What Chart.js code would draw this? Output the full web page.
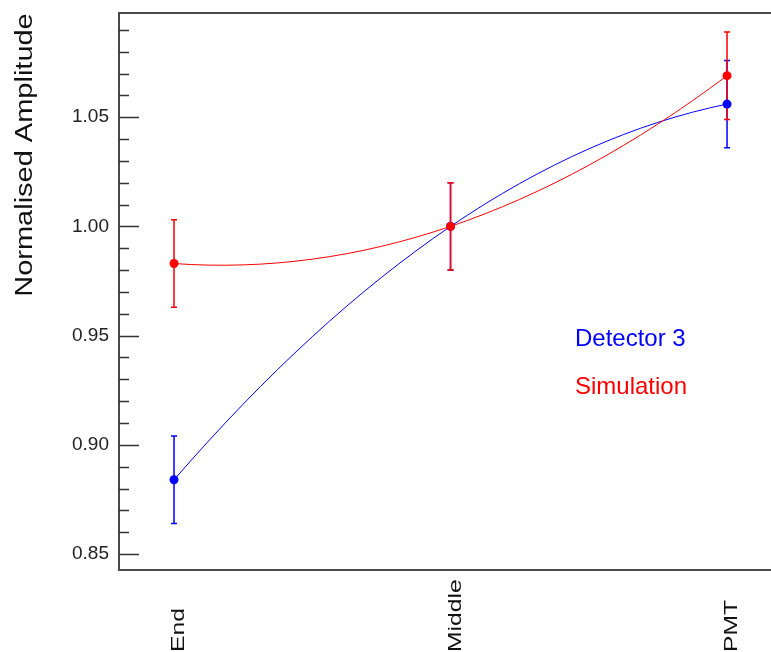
<!DOCTYPE html>
<html>
<head>
<meta charset="utf-8">
<script src="https://cdn.jsdelivr.net/npm/chart.js@4.4.1/dist/chart.umd.min.js"></script>
<style>
  html, body { margin: 0; padding: 0; background: #fff; overflow: hidden; }
  #chart { display: block; }
</style>
</head>
<body>
<canvas id="chart" width="771" height="652"></canvas>
<script>
// values
const categories = ["End", "Middle", "PMT"];
const detectorValues = [0.884, 1.0, 1.056];
const detectorErrors = [0.02, 0.02, 0.02];
const simulationValues = [0.983, 1.0, 1.069];
const simulationErrors = [0.02, 0.02, 0.02];
const majorTicks = [0.85, 0.9, 0.95, 1.0, 1.05];
const legendLabels = ["Detector 3", "Simulation"];

const FONT = "'Liberation Sans', Arial, sans-serif";
const BLUE = "#0000ff";
const RED = "#ff0000";

const isMajor = (v) => majorTicks.some((m) => Math.abs(m - v) < 1e-6);

function toPoints(values) {
  return values.map((v, i) => ({ x: i, y: v }));
}

// the reference joins the three points with one smooth parabola-like arc;
// set the line element's bezier handles from the point tangents
const smoothArc = {
  id: "smoothArc",
  beforeDatasetDraw(chart, args) {
    const line = args.meta.dataset;
    const pts = args.meta.data;
    if (!line || pts.length !== 3) return;
    line.updateControlPoints(chart.chartArea);
    const h = pts[1].x - pts[0].x;
    const [y0, y1, y2] = pts.map((p) => p.y);
    const slopes = [(-3 * y0 + 4 * y1 - y2) / 2, (y2 - y0) / 2, (y0 - 4 * y1 + 3 * y2) / 2];
    pts.forEach((p, i) => {
      p.cp1x = p.x - h / 3;
      p.cp1y = p.y - slopes[i] / 3;
      p.cp2x = p.x + h / 3;
      p.cp2y = p.y + slopes[i] / 3;
    });
    line._path = undefined;
  },
};

// error bars, drawn under the lines and markers
const errorBars = {
  id: "errorBars",
  beforeDatasetsDraw(chart) {
    const { ctx, scales } = chart;
    const sets = [
      { values: detectorValues, errors: detectorErrors, color: BLUE },
      { values: simulationValues, errors: simulationErrors, color: RED },
    ];
    ctx.save();
    ctx.lineWidth = 1.5;
    sets.forEach((s) => {
      ctx.strokeStyle = s.color;
      s.values.forEach((v, i) => {
        const x = scales.x.getPixelForValue(i);
        const top = scales.y.getPixelForValue(v + s.errors[i]);
        const bot = scales.y.getPixelForValue(v - s.errors[i]);
        ctx.beginPath();
        ctx.moveTo(x, top);
        ctx.lineTo(x, bot);
        ctx.moveTo(x - 3, top);
        ctx.lineTo(x + 3, top);
        ctx.moveTo(x - 3, bot);
        ctx.lineTo(x + 3, bot);
        ctx.stroke();
      });
    });
    ctx.restore();
  },
};

// frame, inward ticks, rotated labels and the text legend
const decorations = {
  id: "decorations",
  afterDraw(chart) {
    const { ctx, chartArea, scales } = chart;
    const { left, top, right, bottom } = chartArea;
    ctx.save();

    // frame (no right edge visible, it runs off the picture)
    ctx.strokeStyle = "#4a4a4a";
    ctx.lineWidth = 2;
    ctx.beginPath();
    ctx.moveTo(right + 2, top);
    ctx.lineTo(left, top);
    ctx.lineTo(left, bottom);
    ctx.lineTo(right + 2, bottom);
    ctx.stroke();

    // y ticks pointing into the plot
    ctx.strokeStyle = "#333";
    ctx.lineWidth = 1.5;
    scales.y.ticks.forEach((t) => {
      const y = Math.round(scales.y.getPixelForValue(t.value)) + 0.5;
      const len = isMajor(t.value) ? 20 : 10;
      ctx.beginPath();
      ctx.moveTo(left, y);
      ctx.lineTo(left + len, y);
      ctx.stroke();
    });

    // category labels, rotated
    ctx.fillStyle = "#111";
    ctx.font = "19px " + FONT;
    ctx.textAlign = "left";
    ctx.textBaseline = "alphabetic";
    categories.forEach((c, i) => {
      const x = scales.x.getPixelForValue(i);
      ctx.save();
      ctx.translate(x + 10, 652);
      ctx.rotate(-Math.PI / 2);
      ctx.scale(1.3, 1);
      ctx.fillText(c, 0, 0);
      ctx.restore();
    });

    // y axis title
    ctx.save();
    ctx.font = "23px " + FONT;
    ctx.textAlign = "center";
    ctx.translate(32, 155);
    ctx.rotate(-Math.PI / 2);
    ctx.scale(1.26, 1);
    ctx.fillText("Normalised Amplitude", 0, 0);
    ctx.restore();

    // legend as coloured text
    ctx.font = "24px " + FONT;
    ctx.textAlign = "left";
    ctx.fillStyle = BLUE;
    ctx.fillText(legendLabels[0], 575, 346);
    ctx.fillStyle = RED;
    ctx.fillText(legendLabels[1], 575, 394);

    ctx.restore();
  },
};

new Chart(document.getElementById("chart"), {
  type: "line",
  data: {
    datasets: [
      {
        label: legendLabels[1],
        data: toPoints(simulationValues),
        borderColor: RED,
        backgroundColor: RED,
        borderWidth: 1,
        tension: 0.4,
        pointRadius: 4.5,
        pointBorderWidth: 0,
        fill: false,
      },
      {
        label: legendLabels[0],
        data: toPoints(detectorValues),
        borderColor: BLUE,
        backgroundColor: BLUE,
        borderWidth: 1,
        tension: 0.4,
        pointRadius: 4.5,
        pointBorderWidth: 0,
        fill: false,
      },
    ],
  },
  options: {
    responsive: false,
    animation: false,
    devicePixelRatio: 1,
    layout: { autoPadding: false, padding: { top: 13, left: 0, right: 0, bottom: 0 } },
    plugins: { legend: { display: false }, tooltip: { enabled: false } },
    scales: {
      x: {
        type: "linear",
        min: -0.199,
        max: 2.159,
        grid: { display: false, drawTicks: false },
        border: { display: false },
        ticks: { display: false },
        afterFit: (scale) => {
          scale.height = 82;
          scale.paddingLeft = 0;
          scale.paddingRight = 0;
        },
      },
      y: {
        min: 0.8427,
        max: 1.0977,
        grid: { display: false, drawTicks: false },
        border: { display: false },
        ticks: {
          stepSize: 0.01,
          autoSkip: false,
          includeBounds: false,
          padding: 10,
          color: "#222",
          font: { family: FONT, size: 19 },
          callback: (v) => (isMajor(v) ? Number(v).toFixed(2) : ""),
        },
        afterFit: (scale) => {
          scale.width = 119;
          scale.paddingTop = 0;
          scale.paddingBottom = 0;
        },
      },
    },
  },
  plugins: [smoothArc, errorBars, decorations],
});
</script>
</body>
</html>
